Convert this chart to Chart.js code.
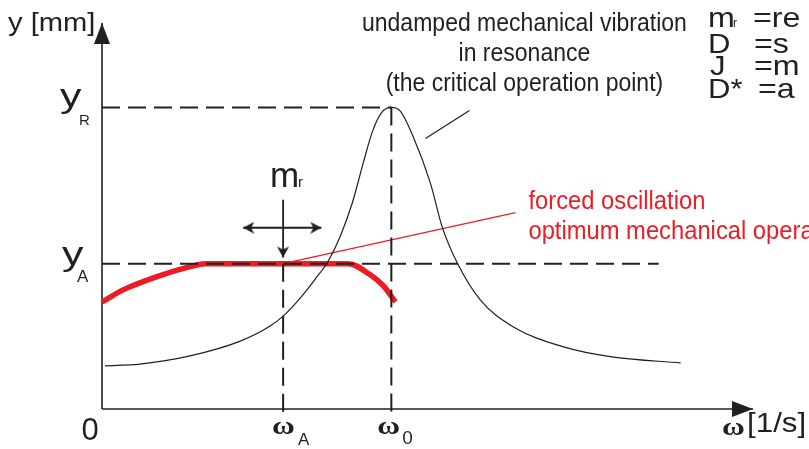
<!DOCTYPE html>
<html>
<head>
<meta charset="utf-8">
<script src="https://cdn.jsdelivr.net/npm/chart.js@4.4.0/dist/chart.umd.min.js"></script>
<style>
  html, body { margin: 0; padding: 0; background: #fff; }
  canvas { display: block; }
</style>
</head>
<body>
<canvas id="chart" width="809" height="449"></canvas>
<script>
// frequency is normalised so that omega_0 = 1, amplitude so that y_R = 1
const omegaResonance = [0.01, 0.131, 0.304, 0.478, 0.581, 0.626, 0.685, 0.737, 0.782, 0.824, 0.865, 0.903, 0.934, 0.965, 1.0, 1.031, 1.076, 1.135, 1.176, 1.228, 1.308, 1.422, 1.595, 1.768, 2.0];
const yResonance = [0.143, 0.149, 0.176, 0.225, 0.275, 0.308, 0.368, 0.431, 0.491, 0.574, 0.683, 0.816, 0.918, 0.981, 1.0, 0.988, 0.902, 0.749, 0.603, 0.484, 0.361, 0.272, 0.206, 0.172, 0.153];

const omegaForced = [0, 0.073, 0.19, 0.304, 0.356, 0.6, 0.851, 0.927, 0.972, 1.014];
const yForced = [0.355, 0.395, 0.439, 0.472, 0.482, 0.482, 0.482, 0.445, 0.409, 0.355];

const omegaA = 0.626;
const omega0 = 1.0;
const yA = 0.482;
const yR = 1.0;
const omegaMax = 2.25;
const yMax = 1.28;
const yAGuideEnd = 1.924;

// leader lines from the curves to their captions
const forcedLeaderX = [omegaA, 1.429];
const forcedLeaderY = [yA, 0.651];
const resonanceLeaderX = [1.118, 1.27];
const resonanceLeaderY = [0.897, 0.99];

// m_r marker (push arrow + sideways double arrow)
const massArrowX = [omegaA, omegaA];
const massArrowY = [0.694, 0.502];
const shiftArrowX = [0.488, 0.758];
const shiftArrowY = [0.601, 0.601];

const INK = '#231f20';
const RED = '#ed1c24';

function makeArrow(w, len, notch) {
  // tip sits in the centre of the canvas so rotation turns about the tip
  const c = document.createElement('canvas');
  c.width = w;
  c.height = 2 * len + 2;
  const g = c.getContext('2d');
  const tipY = len + 1;
  g.fillStyle = INK;
  g.beginPath();
  g.moveTo(w / 2, tipY);
  g.lineTo(w, tipY + len);
  g.lineTo(w / 2, tipY + len - notch);
  g.lineTo(0, tipY + len);
  g.closePath();
  g.fill();
  return c;
}
const axisArrow = makeArrow(16, 21, 0);
const smallArrow = makeArrow(12, 11, 3);

const toPoints = (xs, ys) => xs.map((x, i) => ({ x: x, y: ys[i] }));
function line(xs, ys, style) {
  return Object.assign({
    data: toPoints(xs, ys),
    showLine: true,
    fill: false,
    clip: false,
    pointRadius: 0,
    borderColor: INK,
    borderWidth: 1,
    tension: 0
  }, style);
}

const dash = [18, 8];
const datasets = [
  line([0, omega0], [yR, yR], { borderWidth: 2, borderDash: dash }),
  line([omega0, omega0], [yR, -0.012], { borderWidth: 2, borderDash: dash }),
  line([0, yAGuideEnd], [yA, yA], { borderWidth: 2, borderDash: dash }),
  line([omegaA, omegaA], [yA, -0.012], { borderWidth: 2, borderDash: dash }),
  line(omegaResonance, yResonance, { borderWidth: 1.2, cubicInterpolationMode: 'monotone' }),
  line(resonanceLeaderX, resonanceLeaderY, { borderWidth: 1.2 }),
  line(forcedLeaderX, forcedLeaderY, { borderColor: RED, borderWidth: 1.3 }),
  line(omegaForced, yForced, { borderColor: RED, borderWidth: 5.5, borderCapStyle: 'butt', cubicInterpolationMode: 'monotone' }),
  line(massArrowX, massArrowY, { borderWidth: 1.8, pointRadius: [0, 5], pointStyle: smallArrow, pointRotation: 180 }),
  line(shiftArrowX, shiftArrowY, { borderWidth: 1.8, pointRadius: [5, 5], pointStyle: smallArrow, pointRotation: [270, 90] }),
  line([0, omegaMax], [0, 0], { borderWidth: 1.6, pointRadius: [0, 5], pointStyle: axisArrow, pointRotation: 90 }),
  line([0, 0], [0, yMax], { borderWidth: 1.6, pointRadius: [0, 5], pointStyle: axisArrow, pointRotation: 0 })
];

function text(ctx, str, x, y, size, opts) {
  opts = opts || {};
  ctx.save();
  ctx.font = (opts.weight || '') + ' ' + size + 'px ' + (opts.family || '"Liberation Sans", Arial, sans-serif');
  ctx.fillStyle = opts.color || INK;
  ctx.textAlign = opts.align || 'left';
  ctx.textBaseline = 'alphabetic';
  ctx.translate(x, y);
  ctx.scale(opts.sx || 1, 1);
  ctx.fillText(str, 0, 0);
  ctx.restore();
}

const labels = {
  id: 'labels',
  afterDatasetsDraw(chart) {
    const ctx = chart.ctx;
    const X = v => chart.scales.x.getPixelForValue(v);
    const Y = v => chart.scales.y.getPixelForValue(v);
    const omega = { family: '"Liberation Serif", "Times New Roman", serif', weight: 'bold', sx: 1.2 };

    text(ctx, 'y [mm]', X(0) - 94, Y(yMax) + 8, 26, { sx: 1.12 });

    text(ctx, 'y', X(0) - 42, Y(yR), 33, { sx: 1.3 });
    text(ctx, 'R', X(0) - 23, Y(yR) + 18, 15);
    text(ctx, 'y', X(0) - 40, Y(yA) + 1, 33, { sx: 1.3 });
    text(ctx, 'A', X(0) - 25, Y(yA) + 18, 17);
    text(ctx, '0', X(0) - 12, Y(0) + 31, 31, { align: 'center' });

    text(ctx, 'ω', X(omegaA) - 11, Y(0) + 25, 26, omega);
    text(ctx, 'A', X(omegaA) + 15, Y(0) + 36, 17);
    text(ctx, 'ω', X(omega0) - 14, Y(0) + 25, 26, omega);
    text(ctx, '0', X(omega0) + 11, Y(0) + 35, 19);
    text(ctx, 'ω', X(omegaMax) - 31, Y(0) + 26, 26, omega);
    text(ctx, '[1/s]', X(omegaMax) - 6, Y(0) + 23, 28, { sx: 1.12 });

    text(ctx, 'm', X(omegaA) - 13, Y(massArrowY[0]) - 13, 35);
    text(ctx, 'r', X(omegaA) + 15, Y(massArrowY[0]) - 13, 15);

    const cx = X(1.46);
    const top = [
      'undamped mechanical vibration',
      'in resonance',
      '(the critical operation point)'
    ];
    top.forEach((s, i) => text(ctx, s, cx, 31 + i * 30, 26, { align: 'center', sx: 0.885 }));

    const rx = X(forcedLeaderX[1]) + 13;
    text(ctx, 'forced oscillation', rx, Y(forcedLeaderY[1]) - 4, 25, { color: RED, sx: 0.95 });
    text(ctx, 'optimum mechanical operation', rx, Y(forcedLeaderY[1]) + 26, 25, { color: RED, sx: 0.95 });

    const lx = chart.width - 101;
    const leg = { sx: 1.15 };
    text(ctx, 'm', lx, 27, 28, leg);
    text(ctx, 'r', lx + 25, 27, 12);
    text(ctx, '=re', lx + 45, 27, 28, leg);
    text(ctx, 'D', lx, 53, 27, leg);
    text(ctx, '=s', lx + 46, 53, 28, leg);
    text(ctx, 'J', lx + 2, 75, 27, leg);
    text(ctx, '=m', lx + 46, 75, 28, leg);
    text(ctx, 'D*', lx, 98, 27, leg);
    text(ctx, '=a', lx + 50, 98, 28, leg);
  }
};

new Chart(document.getElementById('chart'), {
  type: 'scatter',
  data: { datasets: datasets },
  options: {
    responsive: false,
    animation: false,
    events: [],
    layout: { padding: { left: 102, right: 56, top: 23, bottom: 40 } },
    scales: {
      x: { type: 'linear', min: 0, max: omegaMax, display: false },
      y: { type: 'linear', min: 0, max: yMax, display: false }
    },
    plugins: { legend: { display: false }, tooltip: { enabled: false } }
  },
  plugins: [labels]
});
</script>
</body>
</html>
